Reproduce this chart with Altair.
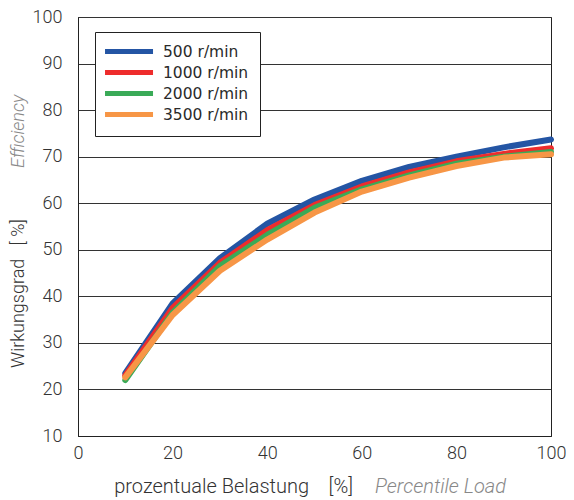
import altair as alt
import pandas as pd

load = [10, 20, 30, 40, 50, 60, 70, 80, 90, 100]
series = ["500 r/min", "1000 r/min", "2000 r/min", "3500 r/min"]
eff_500 = [23.5, 38.5, 48.2, 55.6, 60.8, 64.8, 67.8, 70.0, 72.0, 73.7]
eff_1000 = [23.0, 37.5, 47.2, 54.2, 59.6, 63.6, 66.6, 69.0, 70.6, 71.8]
eff_2000 = [22.0, 36.5, 46.5, 53.2, 59.0, 63.0, 66.0, 68.5, 70.0, 71.0]
eff_3500 = [22.6, 36.0, 45.5, 52.2, 58.0, 62.5, 65.5, 68.0, 69.8, 70.5]
colors = ["#2455a4", "#ee2c2c", "#3aaa57", "#f79646"]

rows = []
for name, vals in zip(series, [eff_500, eff_1000, eff_2000, eff_3500]):
    for x, y in zip(load, vals):
        rows.append({"load": x, "eff": y, "series": name})
df = pd.DataFrame(rows)

FONT = "Roboto"
NB = "\u00a0"
color_enc = alt.Color(
    "series:N",
    scale=alt.Scale(domain=series, range=colors),
    sort=series,
    legend=alt.Legend(
        title=None,
        orient="none",
        legendX=17,
        legendY=15,
        symbolType="M-1.58,0H6.42",
        symbolSize=144,
        symbolStrokeWidth=5,
        labelFont="DejaVu Sans",
        labelFontSize=15.5,
        labelColor="#2a2a2a",
        labelOffset=40,
        rowPadding=0,
        padding=11,
        strokeColor="#222",
        fillColor="white",
    ),
)

x_enc = alt.X(
    "load:Q",
    scale=alt.Scale(domain=[0, 100], nice=False),
    axis=alt.Axis(
        values=[0, 20, 40, 60, 80, 100],
        grid=False,
        ticks=False,
        labelFlush=False,
        domainColor="#222",
        labelFont=FONT,
        labelFontSize=18,
        labelFontWeight=300,
        labelColor="#333",
        labelPadding=8,
        title=None,
    ),
)
y_enc = alt.Y(
    "eff:Q",
    scale=alt.Scale(domain=[10, 100], nice=False),
    axis=alt.Axis(
        values=[10, 20, 30, 40, 50, 60, 70, 80, 90, 100],
        grid=True,
        gridColor="#333",
        gridWidth=1,
        ticks=False,
        labelFlush=False,
        domainColor="#222",
        labelFont=FONT,
        labelFontSize=18,
        labelFontWeight=300,
        labelColor="#333",
        labelPadding=16,
        title=None,
    ),
)

layers = []
for name in series:
    layers.append(
        alt.Chart(df)
        .transform_filter(alt.datum.series == name)
        .mark_line(strokeWidth=6, strokeCap="round", strokeJoin="round")
        .encode(x=x_enc, y=y_enc, color=color_enc)
    )

title_df = pd.DataFrame({"t": [0]})
xt1 = alt.Chart(title_df).mark_text(
    text="prozentuale Belastung" + NB * 4 + "[%]", font=FONT, fontSize=20, fontWeight=300,
    color="#333", align="right", baseline="middle"
).encode(x=alt.value(275), y=alt.value(470))
xt2 = alt.Chart(title_df).mark_text(
    text="Percentile Load", font=FONT, fontSize=20, fontWeight=300, fontStyle="italic",
    color="#888", align="left", baseline="middle"
).encode(x=alt.value(297), y=alt.value(470))
yt1 = alt.Chart(title_df).mark_text(
    text="Wirkungsgrad" + NB * 3 + "[" + NB + "%]", font=FONT, fontSize=18, fontWeight=300,
    color="#333", align="left", baseline="middle", angle=270
).encode(x=alt.value(-59), y=alt.value(351))
yt2 = alt.Chart(title_df).mark_text(
    text="Efficiency", font=FONT, fontSize=18, fontWeight=300, fontStyle="italic",
    color="#888", align="left", baseline="middle", angle=270
).encode(x=alt.value(-59), y=alt.value(151))

chart = (
    alt.layer(*layers, xt1, xt2, yt1, yt2)
    .properties(
        width=473,
        height=419,
        autosize=alt.AutoSizeParams(type="none"),
        padding={"left": 70, "top": 9, "right": 15, "bottom": 70},
    )
    .configure_view(stroke="#222", strokeWidth=1)
)

chart.save("out.html", embed_options={"renderer": "svg", "actions": False})
